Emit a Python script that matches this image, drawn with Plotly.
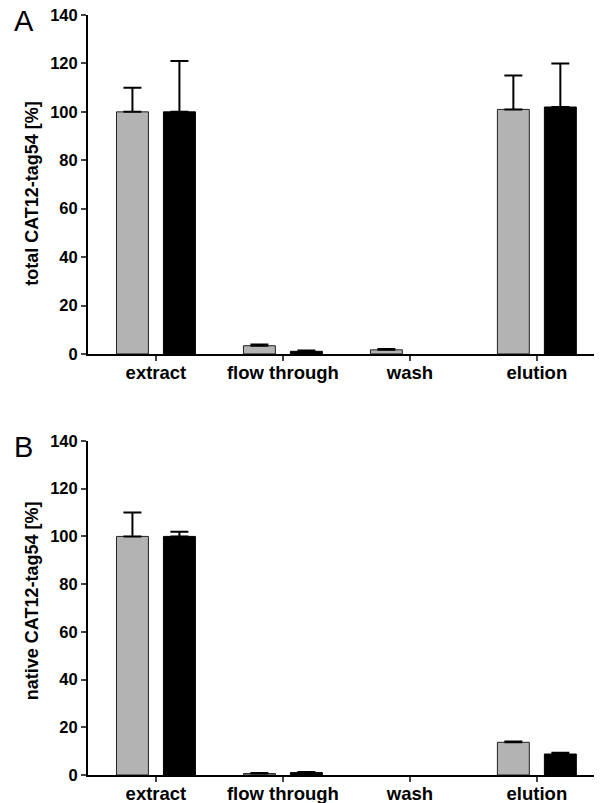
import plotly.graph_objects as go
from plotly.subplots import make_subplots

categories = ["extract", "flow through", "wash", "elution"]

# None = no visible bar in the reference
total_grey = [100, 3.4, 1.7, 101]
total_grey_err = [10, 0.5, 0.4, 14]
total_black = [100, 1.1, None, 102]
total_black_err = [21, 0.3, 0, 18]

native_grey = [100, 0.6, None, 13.7]
native_grey_err = [10, 0.2, 0, 0.3]
native_black = [100, 1.0, None, 8.8]
native_black_err = [2, 0.3, 0, 0.5]

y_ticks = [0, 20, 40, 60, 80, 100, 120, 140]
y_titles = ["total CAT12-tag54 [%]", "native CAT12-tag54 [%]"]

GREY = "#b3b3b3"
FONT = "Liberation Sans, Arial, sans-serif"

fig = make_subplots(rows=2, cols=1)

def add_pair(row, grey, grey_err, black, black_err):
    zeros = [0] * len(categories)
    fig.add_trace(go.Bar(
        x=categories, y=grey, marker=dict(color=GREY, line=dict(color="#222222", width=1)),
        error_y=dict(type="data", array=grey_err, arrayminus=zeros, symmetric=False,
                     visible=True, color="black", thickness=2, width=9),
        showlegend=False), row=row, col=1)
    fig.add_trace(go.Bar(
        x=categories, y=black, marker=dict(color="black", line=dict(color="black", width=1)),
        error_y=dict(type="data", array=black_err, arrayminus=zeros, symmetric=False,
                     visible=True, color="black", thickness=2, width=9),
        showlegend=False), row=row, col=1)

add_pair(1, total_grey, total_grey_err, total_black, total_black_err)
add_pair(2, native_grey, native_grey_err, native_black, native_black_err)

for r in [1, 2]:
    fig.update_yaxes(range=[0, 140], tickvals=y_ticks, ticktext=[f"<b>{v}</b>" for v in y_ticks],
                     ticks="outside", ticklen=5, tickwidth=2, automargin=False,
                     showline=True, linewidth=2, linecolor="black", showgrid=False, zeroline=False,
                     tickfont=dict(family=FONT, size=16.5, color="black"),
                     row=r, col=1)
    fig.update_xaxes(range=[-0.535, 3.45], tickvals=categories, ticktext=[f"<b>{c}</b>" for c in categories],
                     ticks="outside", ticklen=5, tickwidth=2, automargin=False, ticklabelstandoff=-4,
                     showline=True, linewidth=2, linecolor="black", showgrid=False,
                     tickfont=dict(family=FONT, size=18.5, color="black"),
                     row=r, col=1)

fig.update_layout(
    width=608, height=803,
    margin=dict(l=88, r=14, t=15, b=28),
    barmode="group", bargap=0.26, bargroupgap=0.32,
    plot_bgcolor="white", paper_bgcolor="white",
    font=dict(family=FONT, color="black"),
)
fig.update_layout(yaxis=dict(domain=[0.554, 1]), yaxis2=dict(domain=[0, 0.4395]))

for txt, yy in [(y_titles[0], 0.766), (y_titles[1], 0.230)]:
    fig.add_annotation(text=f"<b>{txt}</b>", x=-0.1107, y=yy, xref="paper", yref="paper",
                       showarrow=False, textangle=-90, xanchor="center", yanchor="middle",
                       font=dict(family=FONT, size=18, color="black"))

fig.add_annotation(text="A", x=-0.151, y=0.992, xref="paper", yref="paper", showarrow=False,
                   font=dict(family=FONT, size=29, color="black"), xanchor="left", yanchor="middle")
fig.add_annotation(text="B", x=-0.151, y=0.4316, xref="paper", yref="paper", showarrow=False,
                   font=dict(family=FONT, size=29, color="black"), xanchor="left", yanchor="middle")

fig.write_html("out.html", config={"displayModeBar": False},
               post_script="document.body.style.margin='0';")
